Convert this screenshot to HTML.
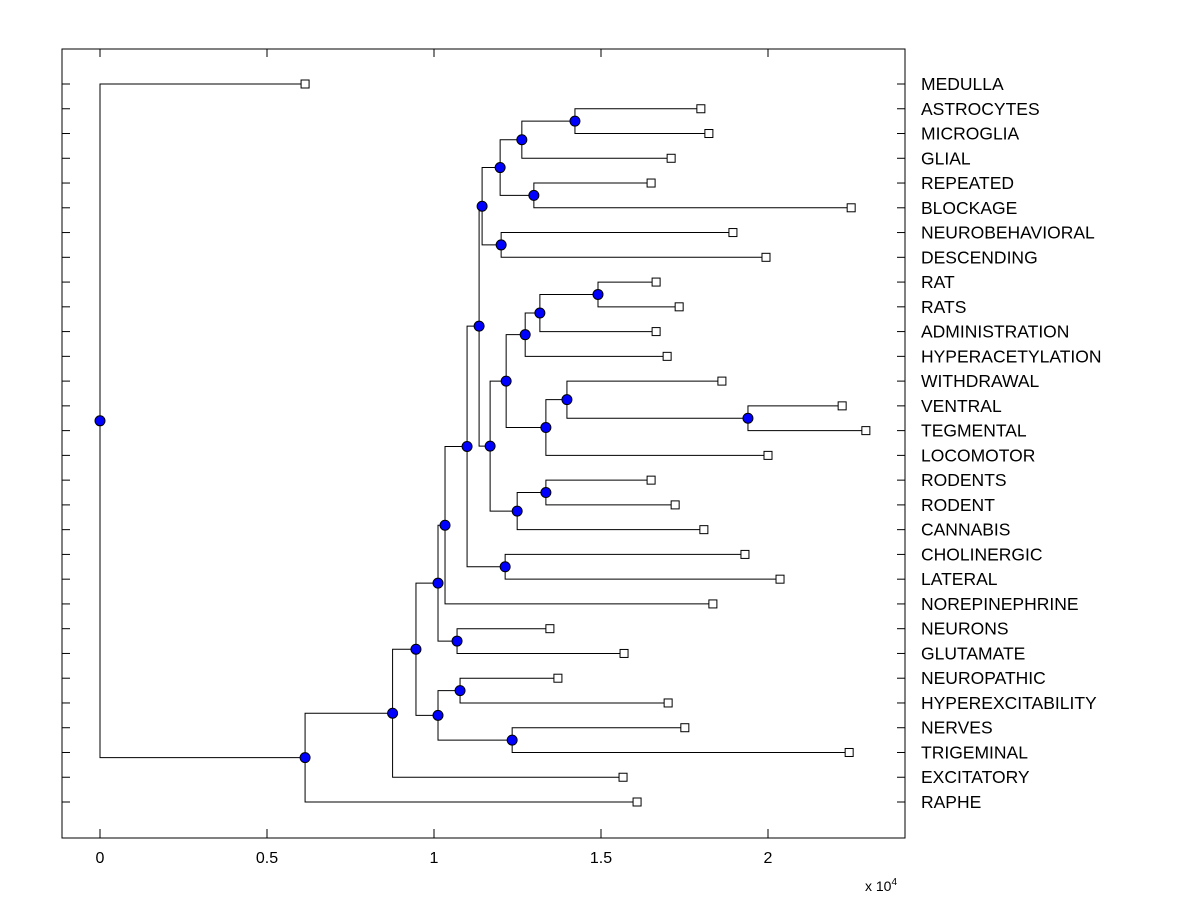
<!DOCTYPE html>
<html><head><meta charset="utf-8"><style>
body{margin:0;background:#fff;}
svg{display:block;font-family:"Liberation Sans",Arial,sans-serif;}
</style></head><body>
<svg id="chart" width="1200" height="900" viewBox="0 0 1200 900"></svg>
<script>
// Leaf labels (top to bottom) and their heights (x 10^4)
const leafLabels = ["MEDULLA","ASTROCYTES","MICROGLIA","GLIAL","REPEATED","BLOCKAGE","NEUROBEHAVIORAL","DESCENDING","RAT","RATS","ADMINISTRATION","HYPERACETYLATION","WITHDRAWAL","VENTRAL","TEGMENTAL","LOCOMOTOR","RODENTS","RODENT","CANNABIS","CHOLINERGIC","LATERAL","NOREPINEPHRINE","NEURONS","GLUTAMATE","NEUROPATHIC","HYPEREXCITABILITY","NERVES","TRIGEMINAL","EXCITATORY","RAPHE"];
const leafValues = [0.614,1.799,1.823,1.710,1.650,2.249,1.895,1.994,1.665,1.734,1.665,1.698,1.862,2.222,2.293,2.000,1.650,1.722,1.808,1.931,2.036,1.835,1.347,1.569,1.371,1.701,1.751,2.243,1.566,1.608];
// Internal nodes: [name, child1, child2, height]; children are leaf indices (numbers) or node names
const nodeNames   = ["S","Q","R","O","P","M","Y","X","V","AA","Z","W","T","AB","U","N","K","L","J","H","I","D","F","G","E","C","B","A","root"];
const nodeChildren = [[1,2],["S",3],[4,5],["Q","R"],[6,7],["O","P"],[8,9],["Y",10],["X",11],[13,14],[12,"AA"],["Z",15],["V","W"],[16,17],["AB",18],["T","U"],["M","N"],[19,20],["K","L"],["J",21],[22,23],["H","I"],[24,25],[26,27],["F","G"],["D","E"],["C",28],["B",29],[0,"A"]];
const nodeValues  = [1.422,1.263,1.299,1.198,1.201,1.144,1.491,1.317,1.273,1.940,1.398,1.335,1.216,1.335,1.249,1.168,1.135,1.213,1.099,1.033,1.069,1.012,1.078,1.234,1.012,0.946,0.876,0.614,0];
const xTicks = [0,0.5,1,1.5,2];

const svg = document.getElementById('chart');
const NS = 'http://www.w3.org/2000/svg';
const L=62,R=905,T=49,B=838;
const xs = v => 100 + v*334;
const ys = i => 84 + i*(802-84)/29;
function mk(tag, attrs, parent){const e=document.createElementNS(NS,tag);for(const k in attrs)e.setAttribute(k,attrs[k]);(parent||svg).appendChild(e);return e;}

const frame = mk('rect',{x:L,y:T,width:R-L,height:B-T,fill:'none',stroke:'#000','stroke-width':1});



leafLabels.forEach((lab,i)=>{
  const y=ys(i);
  const t1=mk('line',{x1:L,x2:L+8,y1:y,y2:y,stroke:'#000'});
  
  
  const t2=mk('line',{x1:R-8,x2:R,y1:y,y2:y,stroke:'#000'});
  
  
  const tx=mk('text',{x:921,y:y+6,'font-size':17.5,fill:'#000'});
  tx.textContent=lab;
  
  
});
xTicks.forEach(v=>{
  const x=xs(v);
  const a=mk('line',{x1:x,x2:x,y1:B,y2:B-9,stroke:'#000'});
  
  
  const b=mk('line',{x1:x,x2:x,y1:T,y2:T+8,stroke:'#000'});
  
  
  const t=mk('text',{x:x,y:863,'font-size':16,'text-anchor':'middle'});
  t.textContent=String(v);
  
  
});
const ex=mk('text',{x:865,y:891,'font-size':14});
ex.innerHTML='x 10<tspan dy="-6" font-size="10">4</tspan>';



const pos={};
function get(c){ if(typeof c==='number') return {x:xs(leafValues[c]),y:ys(c)}; return pos[c]; }
const lines=mk('g',{});


nodeNames.forEach((n,k)=>{
  const a=get(nodeChildren[k][0]), b=get(nodeChildren[k][1]);
  const x=xs(nodeValues[k]), y=(a.y+b.y)/2;
  pos[n]={x,y};
  const p=mk('path',{d:`M${a.x},${a.y}H${x}V${b.y}H${b.x}`,fill:'none',stroke:'#000','stroke-width':1},lines);
  
  
});
leafValues.forEach((v,i)=>{
  const r=mk('rect',{x:xs(v)-4,y:ys(i)-4,width:8,height:8,fill:'#fff',stroke:'#000'});
  
  
});
nodeNames.forEach(n=>{
  const c=mk('circle',{cx:pos[n].x,cy:pos[n].y,r:5,fill:'#0000ff',stroke:'#000'});
  
  
});
</script>
</body></html>
